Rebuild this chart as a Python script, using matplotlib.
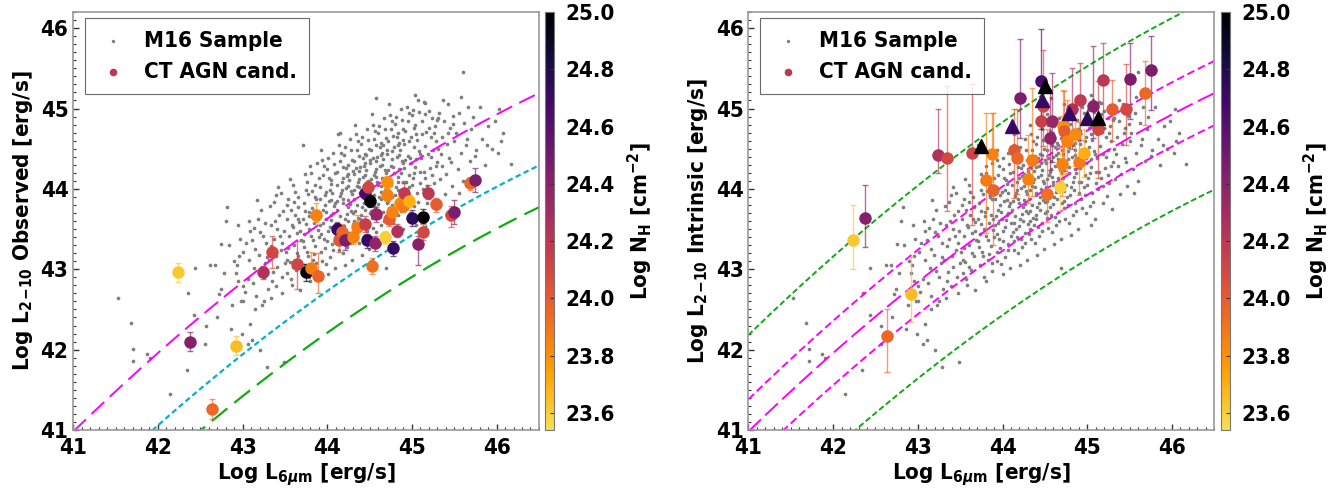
import numpy as np
import matplotlib.pyplot as plt
from matplotlib.colors import ListedColormap, Normalize
from matplotlib.cm import ScalarMappable
from matplotlib.ticker import MultipleLocator

plt.rcParams['font.family'] = ['DejaVu Sans']
plt.rcParams['font.stretch'] = 'condensed'
plt.rcParams['font.weight'] = 'bold'
plt.rcParams['axes.labelweight'] = 'bold'
plt.rcParams['mathtext.fontset'] = 'dejavusans'

# ---- M16 comparison sample (log L6um, log L2-10) ----
m16_x = [41.53, 41.68, 41.71, 41.71, 41.87, 41.91, 42.14, 42.34, 42.35, 42.44,
         42.43, 42.56, 42.57, 42.62, 42.70, 42.72, 42.75, 42.82, 42.86, 43.29,
         43.49, 43.71, 44.15, 44.57, 45.04, 45.16, 45.31, 45.58, 45.60, 46.03,
         46.05, 46.17, 45.89, 45.75, 43.11, 43.06, 42.99, 43.09, 43.20, 43.15,
         43.00, 42.95, 43.25, 44.69, 42.78, 42.84, 42.88, 42.80, 42.68, 42.74,
         42.90,
         42.92, 42.97, 43.03, 43.08, 42.94, 43.01, 43.06, 42.98, 43.09, 42.93,
         43.04, 43.00, 43.07, 42.96,
         43.12, 43.15, 43.18, 43.21, 43.24, 43.27, 43.13, 43.16, 43.19, 43.22,
         43.25, 43.28, 43.14, 43.17, 43.20, 43.23, 43.26, 43.29, 43.11, 43.30,
         43.31, 43.33, 43.35, 43.37, 43.39, 43.41, 43.43, 43.45, 43.47, 43.49,
         43.32, 43.34, 43.36, 43.38, 43.40, 43.42, 43.44, 43.46, 43.48, 43.50,
         43.33, 43.37, 43.41, 43.45, 43.47, 43.39,
         43.51, 43.52, 43.53, 43.54, 43.55, 43.56, 43.57, 43.58, 43.59, 43.60,
         43.61, 43.62, 43.63, 43.64, 43.65, 43.66, 43.67, 43.68, 43.69, 43.52,
         43.54, 43.56, 43.58, 43.60, 43.62, 43.64, 43.66, 43.68, 43.53, 43.57,
         43.61, 43.65,
         43.71, 43.72, 43.73, 43.74, 43.75, 43.76, 43.77, 43.78, 43.79, 43.80,
         43.81, 43.82, 43.83, 43.84, 43.85, 43.86, 43.87, 43.88, 43.89, 43.90,
         43.71, 43.73, 43.75, 43.77, 43.79, 43.81, 43.83, 43.85, 43.87, 43.89,
         43.72, 43.74, 43.76, 43.78, 43.80, 43.82, 43.84, 43.86, 43.88, 43.90,
         43.91, 43.92, 43.93, 43.94, 43.95, 43.96, 43.97, 43.98, 43.99, 44.00,
         44.01, 44.02, 44.03, 44.04, 44.05, 44.06, 44.07, 44.08, 44.09, 44.10,
         43.91, 43.93, 43.95, 43.97, 43.99, 44.01, 44.03, 44.05, 44.07, 44.09,
         43.92, 43.94, 43.96, 43.98, 44.00, 44.02, 44.04, 44.06, 44.08, 44.10,
         43.93, 43.97, 44.01, 44.05, 44.09, 43.95, 44.03, 44.07,
         44.11, 44.12, 44.13, 44.14, 44.15, 44.16, 44.17, 44.18, 44.19, 44.20,
         44.21, 44.22, 44.23, 44.24, 44.25, 44.26, 44.27, 44.28, 44.29, 44.30,
         44.11, 44.13, 44.15, 44.17, 44.19, 44.21, 44.23, 44.25, 44.27, 44.29,
         44.12, 44.14, 44.16, 44.18, 44.20, 44.22, 44.24, 44.26, 44.28, 44.30,
         44.13, 44.17, 44.21, 44.25, 44.29, 44.15, 44.23, 44.27, 44.12, 44.18,
         44.24, 44.30, 44.16, 44.22, 44.28,
         44.31, 44.32, 44.33, 44.34, 44.35, 44.36, 44.37, 44.38, 44.39, 44.40,
         44.41, 44.42, 44.43, 44.44, 44.45, 44.46, 44.47, 44.48, 44.49, 44.50,
         44.31, 44.33, 44.35, 44.37, 44.39, 44.41, 44.43, 44.45, 44.47, 44.49,
         44.32, 44.34, 44.36, 44.38, 44.40, 44.42, 44.44, 44.46, 44.48, 44.50,
         44.33, 44.37, 44.41, 44.45, 44.49, 44.35, 44.43, 44.47, 44.32, 44.38,
         44.44, 44.50, 44.36, 44.42, 44.48, 44.34, 44.40, 44.46, 44.31, 44.39,
         44.51, 44.52, 44.53, 44.54, 44.55, 44.56, 44.57, 44.58, 44.59, 44.60,
         44.61, 44.62, 44.63, 44.64, 44.65, 44.66, 44.67, 44.68, 44.69, 44.70,
         44.51, 44.53, 44.55, 44.57, 44.59, 44.61, 44.63, 44.65, 44.67, 44.69,
         44.52, 44.54, 44.56, 44.58, 44.60, 44.62, 44.64, 44.66, 44.68, 44.70,
         44.53, 44.57, 44.61, 44.65, 44.69, 44.55, 44.63, 44.67, 44.52, 44.58,
         44.64, 44.70, 44.56, 44.62, 44.68, 44.54, 44.60, 44.66,
         44.71, 44.72, 44.73, 44.74, 44.75, 44.76, 44.77, 44.78, 44.79, 44.80,
         44.81, 44.82, 44.83, 44.84, 44.85, 44.86, 44.87, 44.88, 44.89, 44.90,
         44.71, 44.73, 44.75, 44.77, 44.79, 44.81, 44.83, 44.85, 44.87, 44.89,
         44.72, 44.74, 44.76, 44.78, 44.80, 44.82, 44.84, 44.86, 44.88, 44.90,
         44.73, 44.77, 44.81, 44.85, 44.89, 44.75, 44.83, 44.87, 44.72, 44.78,
         44.84, 44.90,
         44.91, 44.92, 44.93, 44.94, 44.95, 44.96, 44.97, 44.98, 44.99, 45.00,
         45.01, 45.02, 45.03, 45.04, 45.05, 45.06, 45.07, 45.08, 45.09, 45.10,
         44.91, 44.93, 44.95, 44.97, 44.99, 45.01, 45.03, 45.05, 45.07, 45.09,
         44.92, 44.94, 44.96, 44.98, 45.00, 45.02, 45.04, 45.06, 45.08, 45.10,
         44.97, 45.05,
         45.11, 45.12, 45.13, 45.14, 45.15, 45.16, 45.17, 45.18, 45.19, 45.20,
         45.21, 45.22, 45.23, 45.24, 45.25, 45.26, 45.27, 45.28, 45.29, 45.30,
         45.12, 45.14, 45.16, 45.18, 45.20, 45.22, 45.24, 45.26, 45.28, 45.30,
         45.31, 45.32, 45.33, 45.35, 45.36, 45.38, 45.39, 45.41, 45.42, 45.44,
         45.45, 45.47, 45.48, 45.50, 45.34, 45.37, 45.40, 45.43, 45.46, 45.49,
         45.52, 45.54, 45.56, 45.58, 45.60, 45.62, 45.64, 45.66, 45.68, 45.70,
         45.55, 45.65,
         45.72, 45.76, 45.80, 45.83, 45.86, 45.90, 45.94, 45.98, 46.02, 46.08]

m16_y = [42.64, 42.33, 42.01, 41.86, 41.94, 41.90, 41.45, 41.75, 42.71, 43.02,
         42.43, 42.07, 42.30, 43.05, 42.40, 42.69, 43.31, 43.77, 42.26, 41.79,
         41.85, 44.55, 44.69, 45.13, 45.17, 45.07, 44.88, 45.14, 45.45, 45.00,
         44.59, 44.31, 44.55, 44.41, 42.12, 42.07, 42.20, 42.32, 42.00, 42.50,
         42.60, 42.85, 42.60, 43.02, 42.95, 43.30, 42.55, 43.60, 43.05, 42.75,
         43.10,
         42.95, 43.38, 42.72, 43.12, 43.55, 43.21, 42.88, 42.61, 43.47, 43.05,
         43.33, 42.79, 43.60, 43.16,
         42.83, 43.25, 43.62, 42.98, 43.41, 43.08, 43.51, 42.67, 43.18, 43.74,
         42.91, 43.33, 43.02, 43.86, 43.46, 42.55, 43.58, 43.15, 43.36, 42.76,
         43.12, 43.55, 42.86, 43.38, 43.92, 43.03, 43.67, 43.24, 42.71, 43.48,
         43.79, 43.29, 42.97, 43.60, 43.17, 44.02, 43.41, 42.90, 43.73, 43.08,
         42.64, 43.84, 43.50, 43.95, 43.33, 42.79,
         43.22, 43.63, 42.95, 43.88, 43.41, 43.09, 43.74, 42.81, 43.52, 44.05,
         43.30, 43.68, 42.99, 43.45, 43.90, 43.16, 43.59, 42.74, 43.37, 43.80,
         43.27, 44.12, 43.55, 43.03, 43.96, 43.20, 43.78, 43.48, 43.12, 42.88,
         43.84, 43.62,
         43.35, 43.82, 43.05, 44.18, 43.56, 43.22, 43.94, 42.90, 43.66, 44.28,
         43.41, 43.76, 43.12, 43.58, 44.05, 43.29, 43.87, 42.98, 43.49, 44.14,
         43.62, 43.44, 43.99, 43.16, 43.71, 44.20, 43.36, 43.90, 43.08, 43.62,
         43.28, 43.73, 44.08, 43.50, 42.85, 43.97, 43.19, 43.68, 44.32, 43.40,
         43.55, 44.02, 43.21, 44.36, 43.74, 43.38, 43.92, 43.06, 43.63, 44.25,
         43.47, 43.85, 43.15, 44.11, 43.68, 43.32, 44.45, 43.79, 43.01, 43.58,
         43.88, 43.44, 44.17, 43.27, 43.96, 44.38, 43.52, 44.06, 43.24, 43.83,
         43.66, 43.10, 44.28, 43.71, 43.35, 44.14, 43.61, 43.95, 44.31, 43.42,
         44.49, 43.80, 42.94, 43.86, 44.20, 43.57, 43.99, 43.70,
         43.74, 44.21, 43.35, 44.55, 43.91, 43.50, 44.08, 43.20, 43.82, 44.42,
         43.63, 44.01, 43.28, 44.30, 43.86, 43.45, 44.62, 43.97, 43.12, 43.70,
         44.05, 43.58, 44.35, 43.40, 44.13, 44.52, 43.69, 44.19, 43.33, 43.94,
         43.85, 43.24, 44.45, 43.88, 43.54, 44.26, 43.77, 44.11, 44.48, 43.56,
         44.68, 43.99, 43.05, 44.03, 44.36, 43.66, 44.16, 43.81, 43.46, 44.27,
         43.60, 44.22, 43.95, 43.38, 43.72,
         43.88, 44.35, 43.50, 44.68, 44.04, 43.64, 44.22, 43.33, 43.95, 44.56,
         43.77, 44.15, 43.42, 44.44, 44.00, 43.58, 44.75, 44.10, 43.25, 43.84,
         44.19, 43.72, 44.49, 43.55, 44.27, 44.65, 43.83, 44.32, 43.47, 44.07,
         43.99, 43.38, 44.59, 44.02, 43.68, 44.39, 43.90, 44.24, 44.61, 43.70,
         44.80, 44.12, 43.18, 44.17, 44.50, 43.80, 44.29, 43.95, 43.60, 44.41,
         43.74, 44.36, 44.08, 43.52, 43.86, 44.26, 43.92, 44.42, 43.44, 43.62,
         44.02, 44.48, 43.64, 44.80, 44.17, 43.78, 44.35, 43.46, 44.08, 44.69,
         43.90, 44.28, 43.55, 44.57, 44.13, 43.71, 44.88, 44.23, 43.38, 43.97,
         44.32, 43.85, 44.62, 43.68, 44.40, 44.78, 43.96, 44.45, 43.60, 44.20,
         44.12, 43.51, 44.72, 44.15, 43.81, 44.52, 44.03, 44.37, 44.74, 43.83,
         44.93, 44.25, 43.31, 44.30, 44.63, 43.93, 44.42, 44.08, 43.73, 44.54,
         43.87, 44.49, 44.21, 43.65, 43.99, 44.39, 44.05, 44.55,
         44.14, 44.60, 43.76, 44.92, 44.29, 43.90, 44.47, 43.58, 44.20, 44.81,
         44.02, 44.40, 43.67, 44.69, 44.25, 43.83, 45.00, 44.35, 43.50, 44.09,
         44.44, 43.97, 44.74, 43.80, 44.52, 44.90, 44.08, 44.57, 43.72, 44.32,
         44.24, 43.63, 44.84, 44.27, 43.93, 44.64, 44.15, 44.49, 44.86, 43.95,
         45.05, 44.37, 43.43, 44.42, 44.75, 44.05, 44.54, 44.20, 43.85, 44.66,
         43.99, 44.61,
         44.26, 44.72, 43.88, 45.02, 44.41, 44.02, 44.59, 43.70, 44.32, 44.92,
         44.14, 44.52, 43.79, 44.80, 44.37, 43.95, 45.10, 44.47, 43.62, 44.21,
         44.56, 44.09, 44.85, 43.92, 44.64, 44.98, 44.20, 44.68, 43.84, 44.44,
         44.36, 43.76, 44.95, 44.39, 44.05, 44.76, 44.27, 44.61, 44.96, 44.07,
         44.17, 43.55,
         44.38, 44.84, 44.00, 45.08, 44.53, 44.14, 44.71, 43.82, 44.44, 44.97,
         44.26, 44.64, 43.91, 44.88, 44.49, 44.07, 44.78, 44.59, 43.75, 44.33,
         44.68, 44.21, 44.93, 44.04, 44.76, 44.40, 44.17, 44.69, 44.29, 44.86,
         44.50, 44.95, 44.12, 44.65, 44.28, 44.84, 43.94, 44.56, 45.05, 44.38,
         44.76, 44.03, 44.91, 44.60, 44.43, 45.10, 44.19, 44.70, 44.33, 44.81,
         44.70, 44.25, 44.95, 44.45, 44.10, 44.82, 44.55, 45.02, 44.35, 44.75,
         43.95, 44.62,
         44.90, 44.48, 45.02, 44.62, 44.30, 44.78, 44.50, 44.85, 44.45, 44.70]

# ---- CT AGN candidates ----
ct_x = [42.24, 42.38, 42.64, 42.92, 43.24, 43.35, 43.64, 43.75, 43.81, 43.89,
        43.87, 44.11, 44.14, 44.17, 44.21, 44.30, 44.35, 44.45, 44.45, 44.48,
        44.47, 44.50, 44.56, 44.53, 44.58, 44.68, 44.71, 44.70, 44.73, 44.76,
        44.78, 44.82, 44.86, 44.91, 44.90, 44.96, 45.00, 45.13, 45.13, 45.07,
        45.19, 45.29, 45.46, 45.50, 45.68, 45.75]
ct_nh = [23.62, 24.42, 23.95, 23.66, 24.25, 24.10, 24.12, 25.00, 23.88, 23.97,
         23.85, 24.72, 24.02, 23.95, 24.45, 23.85, 23.88, 24.15, 24.65, 24.10,
         24.72, 25.00, 24.38, 23.92, 24.35, 23.60, 23.80, 23.85, 24.00, 23.85,
         24.72, 24.25, 23.82, 24.18, 23.88, 23.70, 24.75, 25.00, 24.10, 24.40,
         24.20, 24.00, 24.10, 24.45, 23.95, 24.45]
ct_obs = [42.96, 42.10, 41.26, 42.05, 42.96, 43.21, 43.07, 42.96, 43.02, 42.92,
          43.67, 43.50, 43.36, 43.46, 43.36, 43.40, 43.52, 43.56, 43.95, 44.02,
          43.36, 43.85, 43.33, 43.04, 43.69, 43.40, 44.08, 43.93, 43.62, 43.71,
          43.27, 43.48, 43.83, 43.95, 43.79, 43.85, 43.64, 43.65, 43.46, 43.31,
          43.95, 43.81, 43.67, 43.71, 44.07, 44.11]
ct_obs_lo = [0.12, 0.12, 0.12, 0.12, 0.08, 0.20, 0.32, 0.10, 0.10, 0.22,
             0.08, 0.08, 0.15, 0.10, 0.12, 0.08, 0.08, 0.10, 0.08, 0.08,
             0.10, 0.08, 0.10, 0.10, 0.10, 0.08, 0.08, 0.08, 0.08, 0.08,
             0.10, 0.08, 0.08, 0.08, 0.08, 0.08, 0.10, 0.08, 0.10, 0.26,
             0.08, 0.10, 0.15, 0.15, 0.08, 0.15]
ct_obs_hi = [0.12, 0.12, 0.12, 0.12, 0.08, 0.20, 0.28, 0.10, 0.20, 0.28,
             0.15, 0.08, 0.10, 0.10, 0.08, 0.08, 0.15, 0.10, 0.08, 0.08,
             0.08, 0.08, 0.08, 0.10, 0.08, 0.08, 0.08, 0.08, 0.08, 0.08,
             0.08, 0.08, 0.08, 0.12, 0.08, 0.08, 0.10, 0.10, 0.10, 0.10,
             0.10, 0.08, 0.12, 0.15, 0.08, 0.15]
ct_int = [43.36, 43.64, 42.17, 42.69, 44.42, 44.38, 44.45, 44.53, 44.11, 43.98,
          44.44, 44.78, 44.49, 44.39, 45.13, 44.12, 44.36, 44.84, 45.34, 45.03,
          45.10, 45.28, 44.63, 43.94, 44.84, 44.02, 44.78, 44.31, 44.72, 44.60,
          44.95, 45.00, 44.68, 45.11, 44.33, 44.45, 44.88, 44.88, 44.74, 45.03,
          45.36, 45.00, 45.00, 45.37, 45.19, 45.48]
ct_int_lo = [0.36, 0.36, 0.45, 0.34, 0.22, 0.66, 0.90, 0.00, 0.66, 0.68,
             0.30, 0.00, 0.60, 0.45, 0.50, 0.30, 0.45, 0.50, 0.60, 0.50,
             0.00, 0.00, 0.40, 0.35, 0.50, 0.30, 0.60, 0.40, 0.50, 0.40,
             0.00, 0.50, 0.40, 0.50, 0.40, 0.30, 0.00, 0.00, 0.60, 0.40,
             0.60, 0.40, 0.45, 0.50, 0.40, 0.50]
ct_int_hi = [0.44, 0.41, 0.33, 0.46, 0.58, 0.90, 0.85, 0.00, 0.84, 0.97,
             0.50, 0.00, 0.50, 0.60, 0.73, 0.55, 0.90, 0.50, 0.65, 0.70,
             0.00, 0.00, 0.60, 0.80, 0.60, 0.50, 0.45, 0.60, 0.50, 0.50,
             0.00, 0.50, 0.40, 0.45, 0.50, 0.30, 0.00, 0.00, 0.60, 0.75,
             0.45, 0.35, 0.55, 0.45, 0.40, 0.42]
# 1 = shown as triangle (no error bar) in the intrinsic panel
ct_tri = [0, 0, 0, 0, 0, 0, 0, 1, 0, 0,
          0, 1, 0, 0, 0, 0, 0, 0, 0, 0,
          1, 1, 0, 0, 0, 0, 0, 0, 0, 0,
          1, 0, 0, 0, 0, 0, 1, 1, 0, 0,
          0, 0, 0, 0, 0, 0]

# Stern (2015) L6um - LX relation and offsets of the reference lines
stern_coef = [40.981, 1.024, -0.047]
left_offsets = [0.0, -0.9, -1.42]
right_offsets = [1.2, 0.4, 0.0, -0.4, -1.2]


def stern(l6):
    x = l6 - 41.0
    return stern_coef[0] + stern_coef[1] * x + stern_coef[2] * x ** 2


cmap = ListedColormap(plt.cm.inferno(np.linspace(0, 0.92, 256))[::-1])
norm = Normalize(23.54, 25.0)

fig = plt.figure(figsize=(13.39, 4.96), dpi=100)
ax1 = fig.add_axes([0.0547, 0.133, 0.3478, 0.8427])
cax1 = fig.add_axes([0.407, 0.133, 0.0067, 0.8427])
ax2 = fig.add_axes([0.5589, 0.133, 0.348, 0.8427])
cax2 = fig.add_axes([0.912, 0.133, 0.0067, 0.8427])

l6 = np.linspace(41, 46.5, 300)

# left lines
ax1.plot(l6, stern(l6) + left_offsets[0], color='#ff00ff', lw=1.4, dashes=(9, 4), zorder=2)
ax1.plot(l6, stern(l6) + left_offsets[1], color='#00b4c4', lw=1.6, dashes=(2.5, 1.5), zorder=2)
ax1.plot(l6, stern(l6) + left_offsets[2], color='#11aa11', lw=1.6, dashes=(9, 4), zorder=2)

# right lines
ax2.plot(l6, stern(l6) + right_offsets[0], color='#11aa11', lw=1.4, dashes=(3, 1.5), zorder=2)
ax2.plot(l6, stern(l6) + right_offsets[1], color='#ff00ff', lw=1.4, dashes=(4, 2), zorder=2)
ax2.plot(l6, stern(l6) + right_offsets[2], color='#ff00ff', lw=1.4, dashes=(9, 3), zorder=2)
ax2.plot(l6, stern(l6) + right_offsets[3], color='#ff00ff', lw=1.4, dashes=(4, 2), zorder=2)
ax2.plot(l6, stern(l6) + right_offsets[4], color='#11aa11', lw=1.4, dashes=(3, 1.5), zorder=2)

panels = [(ax1, cax1, ct_obs, ct_obs_lo, ct_obs_hi, 'Log L$_{2\\!-\\!10}$ Observed [erg/s]', False),
          (ax2, cax2, ct_int, ct_int_lo, ct_int_hi, 'Log L$_{2\\!-\\!10}$ Intrinsic [erg/s]', True)]

for ax, cax, yv, ylo, yhi, ylab, right in panels:
    ax.scatter(m16_x, m16_y, s=7, color='#7f7f7f', lw=0, zorder=1)
    for i in range(len(ct_x)):
        col = cmap(norm(ct_nh[i]))
        if right and ct_tri[i]:
            ax.plot(ct_x[i], yv[i], '^', ms=10, color=col, zorder=5)
        else:
            ecol = (col[0], col[1], col[2], 0.65)
            ax.errorbar(ct_x[i], yv[i], yerr=[[ylo[i]], [yhi[i]]], fmt='none',
                        ecolor=ecol, elinewidth=1.0, capsize=2.2, capthick=1.0, zorder=3)
            ax.plot(ct_x[i], yv[i], 'o', ms=9, color=col, mew=0, zorder=4)

    ax.scatter([], [], s=6, color='#7f7f7f', lw=0, label='M16 Sample')
    ax.scatter([], [], s=30, color=cmap(norm(24.2)), lw=0, label='CT AGN cand.')
    leg = ax.legend(loc='upper left', bbox_to_anchor=(0.026, 0.985), borderaxespad=0,
                    fancybox=False, edgecolor='#444444', fontsize=16, handletextpad=0.7,
                    borderpad=0.55, labelspacing=0.5, handlelength=1.4)
    leg.get_frame().set_linewidth(0.8)

    ax.set_xlim(41, 46.5)
    ax.set_ylim(41, 46.2)
    ax.xaxis.set_major_locator(MultipleLocator(1))
    ax.xaxis.set_minor_locator(MultipleLocator(0.1))
    ax.yaxis.set_major_locator(MultipleLocator(1))
    ax.yaxis.set_minor_locator(MultipleLocator(0.1))
    ax.tick_params(which='both', direction='in', top=False, right=False, labelsize=16,
                   color='#333333')
    ax.tick_params(which='major', length=4, width=1)
    ax.tick_params(which='minor', length=2, width=0.8)
    ax.tick_params(axis='x', pad=6)
    for s in ax.spines.values():
        s.set_color('#999999')
        s.set_linewidth(1.2)
    ax.set_xlabel('Log L$_{6\\mu \\mathrm{m}}$ [erg/s]', fontsize=16, labelpad=2)
    ax.set_ylabel(ylab, fontsize=16, labelpad=4)

    cb = fig.colorbar(ScalarMappable(norm=norm, cmap=cmap), cax=cax,
                      ticks=[23.6, 23.8, 24.0, 24.2, 24.4, 24.6, 24.8, 25.0])
    cb.ax.set_yticklabels(['23.6', '23.8', '24.0', '24.2', '24.4', '24.6', '24.8', '25.0'])
    cb.ax.tick_params(direction='in', length=3, labelsize=16, pad=8, color='#333333')
    cb.outline.set_edgecolor('#777777')
    cb.set_label('Log N$_\\mathrm{H}$ [cm$^{-2}$]', fontsize=16, labelpad=8)

fig.savefig('out.png', dpi=100)
